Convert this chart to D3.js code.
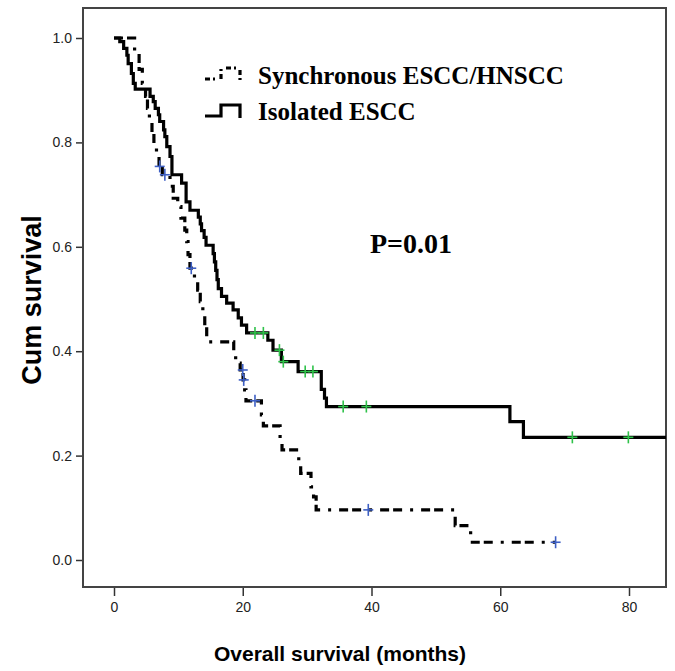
<!DOCTYPE html>
<html>
<head>
<meta charset="utf-8">
<script src="https://cdnjs.cloudflare.com/ajax/libs/d3/7.8.5/d3.min.js"></script>
<style>
  html, body { margin: 0; padding: 0; background: #fff; }
  svg { display: block; }
</style>
</head>
<body>
<svg id="chart" width="675" height="671"></svg>
<script>
// ---- data ----
const xTicks = [0, 20, 40, 60, 80];
const yTicks = [0.0, 0.2, 0.4, 0.6, 0.8, 1.0];

const seriesNames = ["Synchronous ESCC/HNSCC", "Isolated ESCC"];

const syncTimes = [0, 3.2, 3.9, 4.4, 4.9, 5.2, 5.5, 5.9, 6.2, 6.6, 7.0, 7.5, 8.7, 9.2, 9.9, 10.4, 11.0, 11.3, 11.5, 11.8, 12.5, 13.0, 13.4, 13.8, 14.1, 14.4, 18.6, 18.9, 19.6, 20.05, 20.3, 20.5, 22.9, 23.2, 25.8, 26.1, 28.7, 29.0, 30.6, 31.0, 31.4, 53.0, 55.4, 68.6];
const syncSurv  = [1, 0.97, 0.94, 0.913, 0.888, 0.865, 0.843, 0.817, 0.795, 0.773, 0.754, 0.738, 0.716, 0.693, 0.677, 0.655, 0.632, 0.61, 0.585, 0.559, 0.54, 0.517, 0.495, 0.472, 0.447, 0.418, 0.396, 0.377, 0.364, 0.345, 0.326, 0.305, 0.278, 0.257, 0.23, 0.211, 0.185, 0.166, 0.14, 0.121, 0.096, 0.066, 0.034, 0.034];
const syncCensorTimes = [7.1, 7.9, 12.0, 20.0, 20.15, 21.9, 39.5, 68.6];
const syncCensorSurv  = [0.754, 0.738, 0.559, 0.364, 0.345, 0.305, 0.096, 0.034];

const isoTimes = [0, 0.9, 1.5, 2.0, 2.2, 2.7, 3.0, 3.3, 5.6, 6.1, 6.4, 6.9, 7.1, 7.7, 7.9, 8.2, 8.7, 9.0, 10.5, 11.2, 11.8, 13.1, 13.4, 13.6, 14.0, 14.3, 15.4, 15.6, 15.8, 16.0, 16.2, 16.7, 17.5, 18.5, 19.3, 19.8, 20.6, 23.9, 24.7, 26.0, 28.6, 32.2, 32.7, 33.0, 61.5, 63.6, 86];
const isoSurv  = [1, 0.993, 0.98, 0.967, 0.951, 0.932, 0.913, 0.902, 0.888, 0.878, 0.865, 0.853, 0.84, 0.824, 0.811, 0.792, 0.773, 0.738, 0.722, 0.686, 0.670, 0.657, 0.644, 0.631, 0.618, 0.603, 0.587, 0.571, 0.555, 0.537, 0.52, 0.505, 0.492, 0.479, 0.464, 0.45, 0.435, 0.421, 0.402, 0.38, 0.361, 0.327, 0.31, 0.294, 0.265, 0.235, 0.235];
const isoCensorTimes = [21.9, 23.2, 25.7, 26.3, 29.7, 30.9, 35.6, 39.2, 71.2, 79.9];
const isoCensorSurv  = [0.435, 0.435, 0.402, 0.38, 0.361, 0.361, 0.294, 0.294, 0.235, 0.235];

const pText = "P=0.01";
const xTitle = "Overall survival (months)";
const yTitle = "Cum survival";

// ---- layout ----
const frame = { left: 83, right: 666, top: 8, bottom: 587 };
const svg = d3.select("#chart");

const x = d3.scaleLinear().domain([0, 80]).range([114, 629]);
const y = d3.scaleLinear().domain([0, 1]).range([560, 38]);

svg.append("defs").append("clipPath").attr("id", "clip")
  .append("rect")
  .attr("x", frame.left).attr("y", frame.top)
  .attr("width", frame.right - frame.left).attr("height", frame.bottom - frame.top);

const xAxis = d3.axisBottom(x).tickValues(xTicks).tickFormat(d3.format("d")).tickSize(9).tickSizeOuter(0);
const gx = svg.append("g").attr("transform", `translate(0,${frame.bottom})`).call(xAxis);
gx.select(".domain").remove();
gx.selectAll(".tick line").attr("stroke", "#333").attr("stroke-width", 1.5);
gx.selectAll(".tick text").attr("font-family", "Liberation Sans, Arial, sans-serif").attr("font-size", 14).attr("fill", "#222").attr("dy", "0.9em");

const yAxis = d3.axisLeft(y).tickValues(yTicks).tickFormat(d3.format(".1f")).tickSize(7).tickSizeOuter(0);
const gy = svg.append("g").attr("transform", `translate(${frame.left},0)`).call(yAxis);
gy.select(".domain").remove();
gy.selectAll(".tick line").attr("stroke", "#333").attr("stroke-width", 1.5);
gy.selectAll(".tick text").attr("font-family", "Liberation Sans, Arial, sans-serif").attr("font-size", 14).attr("fill", "#222").attr("x", -11);

svg.append("rect")
  .attr("x", frame.left).attr("y", frame.top)
  .attr("width", frame.right - frame.left).attr("height", frame.bottom - frame.top)
  .attr("fill", "none").attr("stroke", "#444").attr("stroke-width", 2);

const line = d3.line().curve(d3.curveStepAfter).x(d => x(d[0])).y(d => y(d[1]));
const plot = svg.append("g").attr("clip-path", "url(#clip)");

const syncData = syncTimes.map((t, i) => [t, syncSurv[i]]);
const isoData = isoTimes.map((t, i) => [t, isoSurv[i]]);

plot.append("path").datum(syncData).attr("d", line)
  .attr("fill", "none").attr("stroke", "#000").attr("stroke-width", 3.2)
  .attr("stroke-dasharray", "9,4,9,8,3,8");

plot.append("path").datum(isoData).attr("d", line)
  .attr("fill", "none").attr("stroke", "#000").attr("stroke-width", 3.2);

function crosses(times, surv, color) {
  const pts = times.map((t, i) => [t, surv[i]]);
  const g = plot.append("g").attr("stroke", color).attr("stroke-width", 1.6);
  g.selectAll("line.h").data(pts).join("line").attr("class", "h")
    .attr("x1", d => x(d[0]) - 5).attr("x2", d => x(d[0]) + 5)
    .attr("y1", d => y(d[1])).attr("y2", d => y(d[1]));
  g.selectAll("line.v").data(pts).join("line").attr("class", "v")
    .attr("x1", d => x(d[0])).attr("x2", d => x(d[0]))
    .attr("y1", d => y(d[1]) - 6).attr("y2", d => y(d[1]) + 6);
}
crosses(syncCensorTimes, syncCensorSurv, "#3d5fc4");
crosses(isoCensorTimes, isoCensorSurv, "#2fc24a");

// legend
const legend = svg.append("g");
const iconPath = (yb) => `M205,${yb} H221 V${yb - 11} H240 V${yb + 2}`;
legend.append("path").attr("d", iconPath(79)).attr("fill", "none").attr("stroke", "#000")
  .attr("stroke-width", 3.2).attr("stroke-dasharray", "5,3,2,6");
legend.append("path").attr("d", iconPath(116)).attr("fill", "none").attr("stroke", "#000")
  .attr("stroke-width", 3.2);
legend.selectAll("text").data(seriesNames).join("text")
  .attr("x", 258).attr("y", (d, i) => 84 + i * 36)
  .attr("font-family", "Liberation Serif, Times New Roman, serif")
  .attr("font-weight", "bold").attr("font-size", 25).attr("fill", "#000")
  .text(d => d);

svg.append("text").attr("x", 370).attr("y", 253)
  .attr("font-family", "Liberation Serif, Times New Roman, serif")
  .attr("font-weight", "bold").attr("font-size", 28).attr("fill", "#000")
  .text(pText);

svg.append("text").attr("x", 340).attr("y", 661).attr("text-anchor", "middle")
  .attr("font-family", "Liberation Sans, Arial, sans-serif").attr("font-weight", "bold")
  .attr("font-size", 21).attr("fill", "#000").text(xTitle);

svg.append("text").attr("transform", "translate(41,300) rotate(-90)").attr("text-anchor", "middle")
  .attr("font-family", "Liberation Sans, Arial, sans-serif").attr("font-weight", "bold")
  .attr("font-size", 27).attr("fill", "#000").text(yTitle);
</script>
</body>
</html>
